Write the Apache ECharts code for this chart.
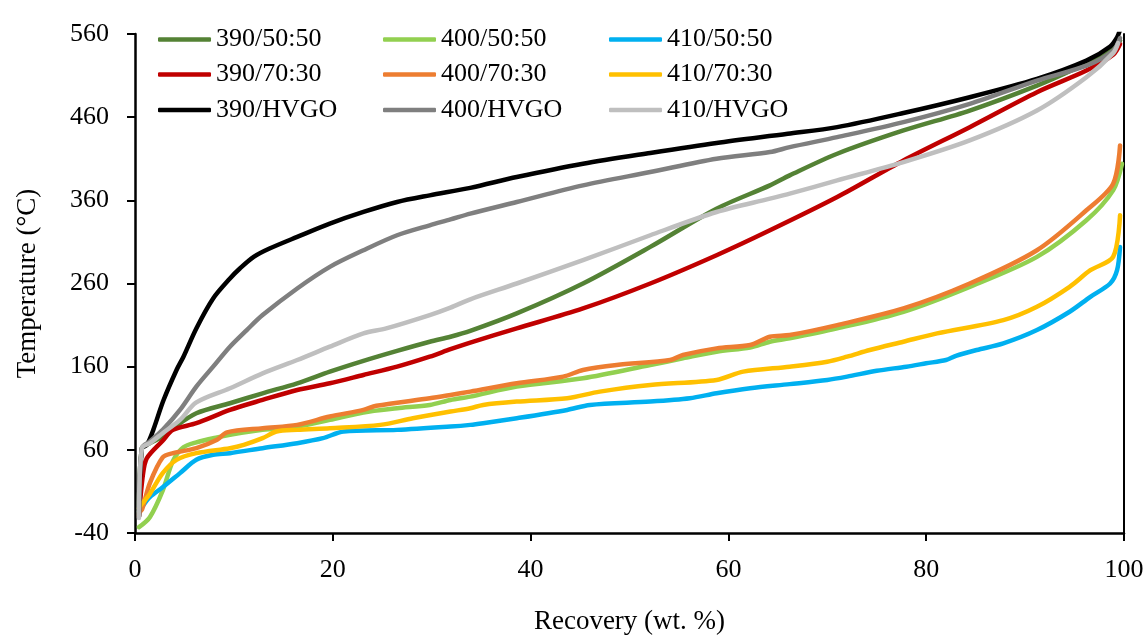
<!DOCTYPE html>
<html>
<head>
<meta charset="utf-8">
<script src="https://cdn.jsdelivr.net/npm/echarts@6/dist/echarts.min.js"></script>
<style>
html,body{margin:0;padding:0;background:#fff;}
#chart{width:1146px;height:635px;}
</style>
</head>
<body>
<div id="chart"></div>
<script>
// ---- data (x = Recovery wt.%, y = Temperature °C) ----
const seriesNames = ['390/50:50','400/50:50','410/50:50','390/70:30','400/70:30','410/70:30','390/HVGO','400/HVGO','410/HVGO'];
const seriesColors = ['#548235','#92d050','#00b0f0','#c00000','#ed7d31','#ffc000','#000000','#7f7f7f','#bfbfbf'];

const d390_5050 = [[0.4,-20],[0.7,62],[1.5,68],[2.8,76],[3.85,86],[6.2,104],[9.6,116],[12.9,128],[16.4,140],[19.7,154],[23.1,167],[26.5,179],[29.8,190],[31.9,196],[33.9,203],[38.6,224],[45.3,260],[52.1,304],[58.8,350],[64.2,378],[66.2,390],[71,416],[77.7,444],[84.4,468],[91.2,498],[95,518],[98,536],[99.6,552]];
const d400_5050 = [[0.4,-33],[1.5,-21],[2.8,11],[3.85,47],[4.9,63],[6.2,69],[8.3,75],[9.6,78],[12.9,84],[16.4,88],[19.7,96],[23.1,105],[26.5,110],[29.8,114],[31.9,120],[33.9,124],[38.6,136],[45.3,146],[52.1,162],[55.4,170],[58.8,178],[62.2,183],[64.2,190],[66.2,194],[71,206],[77.7,226],[84.4,256],[91.2,292],[96.2,336],[98.9,372],[99.8,404]];
const d410_5050 = [[0.4,-14],[0.7,-9],[1.5,3],[2.8,15],[4.55,32],[6.2,48],[7.9,54],[9.6,56],[12.9,62],[16.4,68],[19,74],[21.1,82],[26.5,84],[31.9,88],[33.9,90],[35.2,92],[38.6,98],[43.7,108],[46,114],[52.1,118],[56.1,122],[58.8,128],[62.2,134],[66.2,139],[70,144],[72,148],[75,155],[78,160],[80,164],[82,168],[83,173],[85.1,180],[87.8,188],[91.2,204],[94.5,226],[96.6,244],[98.6,260],[99.3,276],[99.6,304]];
const d390_7030 = [[0.4,-20],[0.8,30],[1.2,50],[2.8,71],[3.85,84],[6.2,92],[9.6,108],[12.9,120],[16.4,132],[19.7,140],[23.1,150],[26.5,160],[29.8,172],[31.9,181],[33.9,189],[38.6,206],[45.3,230],[52.1,260],[58.8,294],[64.2,324],[71,364],[77.7,408],[84.4,448],[91.2,490],[96.2,516],[98.9,535],[99.6,548]];
const d400_7030 = [[0.4,-15],[0.7,-12],[1.5,20],[2.8,51],[3.85,56],[6.2,62],[8.3,72],[9.3,81],[12.9,86],[16.4,90],[19.7,100],[23.1,108],[24.4,113],[29.8,122],[31.9,126],[33.9,130],[38.6,140],[43.3,148],[45.3,156],[48.7,162],[54.1,168],[55.4,174],[58.8,182],[62.2,186],[64.2,196],[66.2,198],[71,210],[77.7,230],[84.4,260],[91.2,300],[96.2,348],[98.9,380],[99.6,426]];
const d410_7030 = [[0.4,-10],[0.7,-5],[1.5,7],[2.8,32],[4.2,48],[6.2,56],[9.6,62],[11,66],[12.9,74],[14.3,82],[16.4,84],[19.7,86],[24.8,90],[28.1,98],[31.9,106],[33.9,110],[35.2,114],[38.6,118],[43.7,122],[47,130],[52.1,138],[58.8,144],[61.5,154],[66.2,160],[70,166],[72,172],[74.3,180],[77.7,190],[81.1,200],[87.8,216],[91.2,232],[94.5,256],[96.6,276],[98.9,292],[99.6,342]];
const d390_HVGO = [[0.4,-20],[0.7,62],[1.2,66],[1.85,84],[2.86,119],[4.2,156],[4.9,172],[6.2,206],[7.9,242],[9.6,266],[10.6,278],[12,292],[13.6,302],[16.4,316],[19.7,332],[23.1,346],[26.5,358],[29.8,366],[33.9,375],[38.6,388],[45.3,404],[52.1,417],[58.8,429],[66,440],[71,448],[77.7,465],[84.4,484],[91.2,506],[96.2,528],[98.6,545],[99.3,556],[99.6,565]];
const d400_HVGO = [[0.4,-20],[0.7,62],[1.5,70],[2.8,84],[4.55,108],[6.2,136],[7.9,160],[9.6,184],[11.3,204],[12.9,222],[16.4,254],[19.7,280],[23.1,300],[26.5,318],[29.8,330],[31.9,337],[33.9,344],[38.6,358],[45.3,378],[52.1,394],[58.8,410],[64.2,418],[66.2,424],[71,436],[77.7,454],[84.4,476],[91.2,504],[96.2,522],[98.9,540],[99.6,555]];
const d410_HVGO = [[0.4,-22],[0.7,62],[1.5,68],[2.8,80],[4.55,96],[6.2,117],[9.6,134],[12.9,152],[16.4,168],[19.7,184],[23.1,200],[25.4,206],[29.8,222],[31.9,231],[33.9,241],[38.6,260],[45.3,288],[52.1,318],[58.8,346],[64.2,362],[66.2,368],[71,384],[77.7,406],[84.4,432],[91.2,468],[96.2,508],[98.9,537],[99.4,549]];

const seriesData = [d390_5050,d400_5050,d410_5050,d390_7030,d400_7030,d410_7030,d390_HVGO,d400_HVGO,d410_HVGO];

const xTicks = {min:0, max:100, interval:20};
const yTicks = {min:-40, max:560, interval:100};
const xTitle = 'Recovery (wt. %)';
const yTitle = 'Temperature (°C)';

// ---- chart ----
const FONT = "'Liberation Serif', 'Times New Roman', serif";
const chart = echarts.init(document.getElementById('chart'), null, {renderer:'canvas'});

const legendRowY = [39.5, 74.5, 110];
const legendColX = [158, 383, 609];
const legends = seriesNames.map((n, i) => ({
  data: [n],
  left: legendColX[i % 3],
  top: legendRowY[Math.floor(i / 3)] - 13,
  padding: 0,
  orient: 'horizontal',
  icon: 'roundRect',
  itemWidth: 53,
  itemHeight: 4.5,
  selectedMode: false,
  textStyle: {fontFamily: FONT, fontSize: 26, color: '#000'}
}));

const option = {
  backgroundColor: '#fff',
  animation: false,
  grid: {left: 135, right: 22, top: 34, bottom: 102, outerBoundsMode: 'none', containLabel: false},
  legend: legends,
  xAxis: {
    type: 'value', min: xTicks.min, max: xTicks.max, interval: xTicks.interval,
    name: xTitle, nameLocation: 'middle', nameGap: 75,
    nameTextStyle: {fontFamily: FONT, fontSize: 27, color: '#000'},
    axisLine: {show: true, onZero: false, lineStyle: {color: '#000', width: 2.5}},
    axisTick: {show: true, length: 8, lineStyle: {color: '#000', width: 2}},
    axisLabel: {fontFamily: FONT, fontSize: 26, color: '#000', margin: 24},
    splitLine: {show: false}
  },
  yAxis: [{
    type: 'value', min: yTicks.min, max: yTicks.max, interval: yTicks.interval,
    name: yTitle, nameLocation: 'middle', nameGap: 94,
    nameTextStyle: {fontFamily: FONT, fontSize: 27, color: '#000'},
    axisLine: {show: true, lineStyle: {color: '#000', width: 2.5}},
    axisTick: {show: true, length: 8, lineStyle: {color: '#000', width: 2}},
    axisLabel: {fontFamily: FONT, fontSize: 26, color: '#000', margin: 26},
    splitLine: {show: false}
  },{
    type: 'value', position: 'right', min: yTicks.min, max: yTicks.max, interval: yTicks.interval,
    axisLine: {show: true, lineStyle: {color: '#000', width: 2}},
    axisTick: {show: false}, axisLabel: {show: false}, splitLine: {show: false}
  }],
  series: seriesNames.map((n, i) => ({
    name: n, type: 'line', data: seriesData[i],
    yAxisIndex: 0,
    showSymbol: false, symbol: 'none',
    smooth: 0.3,
    color: seriesColors[i],
    lineStyle: {color: seriesColors[i], width: 4.5, cap: 'round', join: 'round'},
    z: 2 + i
  }))
};
chart.setOption(option);
</script>
</body>
</html>
